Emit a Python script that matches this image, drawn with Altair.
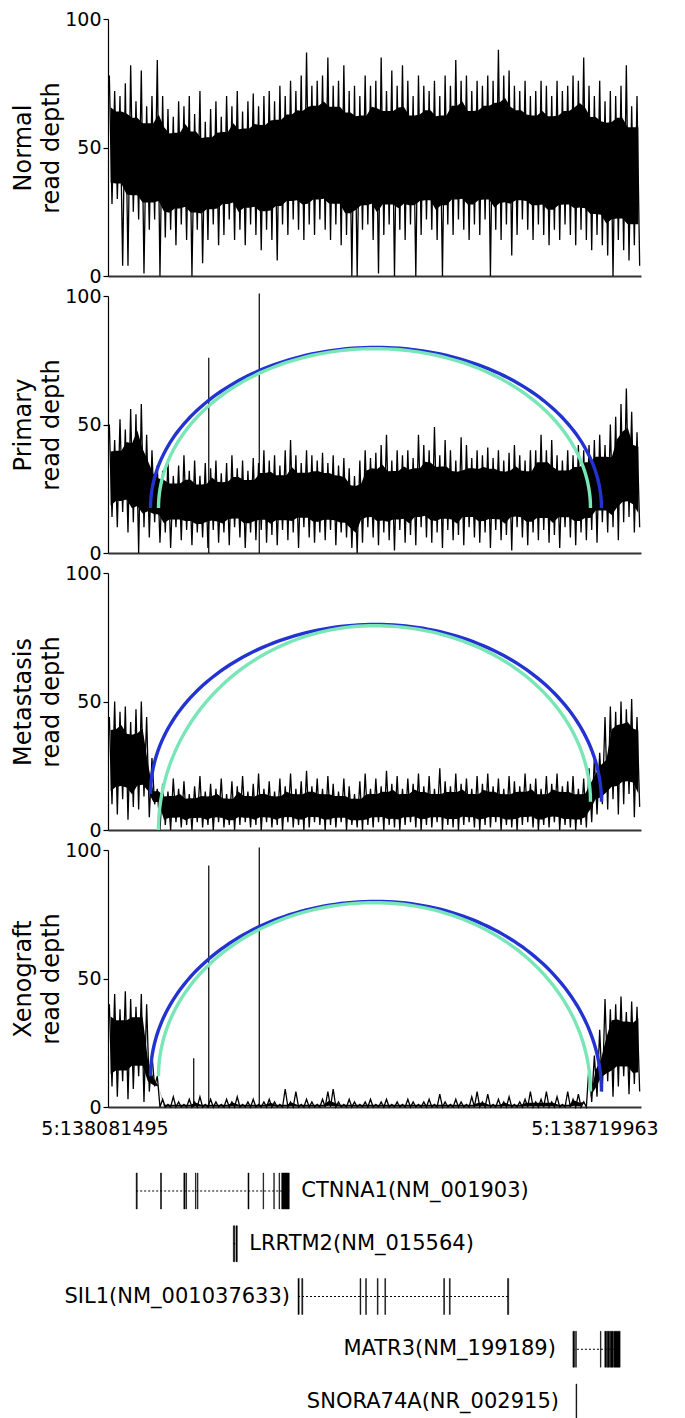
import numpy as np
import pandas as pd
import altair as alt

# ---------------- region / labels ----------------
CHROM = "5"
REGION_START = 138085404
REGION_END = 138779903
AXIS_LABEL_POS = [138081495, 138719963]

PANEL_NAMES = ["Normal", "Primary", "Metastasis", "Xenograft"]

# read depth envelope per bin (alternating peak / trough)
normal_hi = [78, 72, 70, 75, 82, 68, 80, 66, 70, 84,
             70, 65, 62, 68, 66, 70, 63, 72, 60, 65,
             68, 62, 70, 66, 72, 64, 68, 71, 66, 70,
             72, 68, 74, 70, 76, 72, 78, 87, 74, 76,
             78, 85, 74, 76, 82, 72, 74, 70, 78, 74,
             76, 85, 72, 80, 74, 82, 76, 70, 78, 74,
             72, 76, 70, 78, 74, 84, 76, 78, 72, 76,
             74, 78, 76, 88, 78, 80, 74, 72, 76, 70,
             72, 76, 74, 70, 76, 72, 74, 78, 76, 85,
             74, 70, 76, 68, 72, 70, 74, 82, 66, 70]
normal_lo = [28, 30, 4, 4, 25, 22, 1, 18, 22, 0,
             15, 18, 12, 20, 14, 0, 18, 5, 14, 20,
             12, 16, 22, 14, 18, 12, 20, 16, 10, 18,
             14, 6, 20, 16, 22, 18, 14, 20, 16, 22,
             18, 14, 20, 12, 16, 0, 0, 18, 20, 14,
             1, 16, 20, 0, 18, 14, 20, 0, 16, 22,
             18, 14, 0, 20, 16, 22, 18, 14, 20, 16,
             22, 0, 18, 14, 20, 8, 16, 22, 18, 14,
             20, 16, 12, 18, 14, 20, 16, 12, 18, 14,
             10, 16, 12, 8, 0, 14, 10, 6, 12, 4]

primary_hi = [50, 44, 52, 48, 56, 54, 58, 46, 40, 34,
              32, 36, 30, 34, 38, 32, 36, 30, 35, 33,
              36, 31, 35, 38, 33, 36, 32, 37, 35, 40,
              36, 38, 34, 40, 44, 38, 35, 40, 38, 36,
              39, 35, 38, 34, 37, 33, 30, 36, 40, 37,
              39, 42, 46, 36, 40, 38, 40, 37, 46, 42,
              40, 49, 38, 44, 40, 36, 45, 42, 37, 40,
              38, 41, 37, 40, 36, 39, 42, 38, 36, 40,
              40, 46, 40, 44, 38, 36, 40, 38, 42, 40,
              42, 44, 46, 42, 50, 53, 58, 64, 55, 47]
primary_lo = [14, 10, 16, 8, 12, 0, 10, 6, 12, 4,
              8, 2, 10, 5, 9, 3, 8, 6, 2, 9,
              4, 8, 3, 10, 6, 2, 8, 5, 9, 4,
              7, 3, 9, 5, 8, 2, 10, 6, 4, 8,
              5, 9, 3, 8, 6, 2, 0, 4, 10, 6,
              3, 8, 5, 1, 9, 4, 7, 3, 10, 6,
              4, 8, 2, 9, 5, 7, 3, 10, 6, 4,
              8, 2, 9, 5, 7, 1, 10, 6, 3, 8,
              5, 9, 4, 7, 2, 10, 6, 3, 8, 5,
              9, 4, 12, 8, 10, 5, 12, 14, 8, 10]

metastasis_hi = [44, 50, 46, 48, 42, 47, 50, 44, 28, 16,
                 18, 15, 20, 16, 19, 14, 17, 21, 15, 18,
                 16, 20, 14, 19, 17, 21, 15, 18, 22, 16,
                 19, 15, 20, 17, 22, 16, 19, 23, 17, 20,
                 16, 21, 18, 15, 20, 17, 14, 19, 22, 16,
                 20, 17, 23, 18, 21, 16, 20, 18, 22, 17,
                 21, 16, 24, 19, 17, 22, 18, 20, 16, 21,
                 18, 22, 17, 20, 16, 21, 19, 17, 22, 18,
                 20, 16, 21, 18, 22, 17, 19, 21, 16, 20,
                 24, 28, 30, 44, 48, 46, 50, 47, 51, 44]
metastasis_lo = [10, 6, 12, 4, 9, 8, 13, 5, 10, 0,
                 2, 0, 3, 1, 2, 0, 3, 1, 2, 0,
                 3, 1, 2, 0, 2, 3, 1, 2, 0, 3,
                 1, 2, 0, 3, 1, 2, 0, 1, 3, 2,
                 0, 2, 1, 3, 0, 2, 1, 0, 2, 1,
                 3, 0, 2, 1, 0, 2, 3, 1, 0, 2,
                 1, 3, 0, 2, 1, 0, 2, 3, 1, 0,
                 2, 1, 3, 0, 2, 1, 0, 2, 3, 1,
                 0, 2, 1, 3, 0, 2, 1, 0, 2, 1,
                 3, 6, 10, 8, 12, 6, 10, 14, 5, 9]

xenograft_hi = [40, 44, 38, 45, 42, 39, 44, 40, 20, 12,
                3, 1, 4, 2, 1, 3, 2, 4, 1, 3,
                2, 1, 3, 2, 4, 1, 2, 3, 1, 2,
                3, 2, 1, 7, 2, 6, 1, 3, 2, 1,
                3, 6, 7, 2, 1, 3, 2, 1, 2, 3,
                1, 2, 3, 1, 2, 1, 3, 2, 1, 2,
                3, 1, 5, 2, 1, 3, 2, 1, 4, 6,
                2, 5, 1, 3, 2, 4, 1, 2, 3, 6,
                2, 3, 6, 2, 4, 1, 6, 3, 5, 2,
                16, 20, 30, 42, 38, 40, 43, 37, 41, 39]
xenograft_lo = [8, 4, 10, 3, 7, 12, 2, 6, 8, 0,
                0, 0, 0, 0, 0, 0, 0, 0, 0, 0,
                0, 0, 0, 0, 0, 0, 0, 0, 0, 0,
                0, 0, 0, 0, 0, 0, 0, 0, 0, 0,
                0, 0, 0, 0, 0, 0, 0, 0, 0, 0,
                0, 0, 0, 0, 0, 0, 0, 0, 0, 0,
                0, 0, 0, 0, 0, 0, 0, 0, 0, 0,
                0, 0, 0, 0, 0, 0, 0, 0, 0, 0,
                0, 0, 0, 0, 0, 0, 0, 0, 0, 0,
                2, 4, 6, 10, 4, 8, 12, 5, 9, 6]

# isolated high spikes
primary_spike_pos = [138216700, 138282500]
primary_spike_val = [76, 101]
xenograft_spike_pos = [138197100, 138216700, 138282500]
xenograft_spike_val = [19, 94, 101]

# split-read arcs (breakpoint pairs), panels Primary, Metastasis, Xenograft
blue_arc_pos = [138140800, 138728400]
green_arc_pos = [138151200, 138714100]
blue_base_left = [17.5, 14, 12]
blue_base_right = [17.5, 11, 6]
green_base_left = [17.5, 0, 12]
green_base_right = [17.5, 11, 6]
blue_peak = [80, 80, 80]
green_peak = [79.5, 79.5, 79.5]
ARC_COLORS = ["#2233d0", "#78e6b6"]

# gene models
gene_names = ["CTNNA1", "LRRTM2", "SIL1", "MATR3", "SNORA74A"]
gene_ids = ["NM_001903", "NM_015564", "NM_001037633", "NM_199189", "NR_002915"]
ctnna1_start = [138122100, 138153800, 138184200, 138186900, 138199300, 138201900,
                138267800, 138287400, 138301400, 138308200, 138311700]
ctnna1_end = [138123500, 138155100, 138185700, 138187800, 138200100, 138202700,
              138269100, 138288200, 138302100, 138309000, 138321600]
lrrtm2_start = [138248700, 138252200]
lrrtm2_end = [138250600, 138253900]
sil1_start = [138333000, 138337900, 138413800, 138421100, 138436300, 138446100,
              138522800, 138530200, 138606000]
sil1_end = [138334500, 138339200, 138414800, 138422100, 138437300, 138447100,
            138523900, 138531300, 138607500]
matr3_start = [138691200, 138694700, 138727000, 138732700, 138735900, 138739800, 138744200]
matr3_end = [138693300, 138695700, 138727800, 138735000, 138738900, 138743400, 138752700]
snora74a_start = [138695200]
snora74a_end = [138696200]

FONT = "DejaVu Sans"
W = 533
H = 257

# ---------------- build tables ----------------
def depth_frame(hi, lo):
    n = len(hi)
    w = (REGION_END - REGION_START) / n
    xs, ys = [], []
    for i in range(n):
        xs += [REGION_START + (i + 0.25) * w, REGION_START + (i + 0.75) * w]
        ys += [hi[i], lo[i]]
    return pd.DataFrame({"pos": xs, "depth": ys})


def core_frame(hi, lo):
    # densely covered part of the signal, between neighbouring peaks and troughs
    n = len(hi)
    w = (REGION_END - REGION_START) / n
    s_hi = pd.Series(hi, dtype=float).rolling(3, center=True, min_periods=1).min().values
    s_lo = pd.Series(lo, dtype=float).rolling(3, center=True, min_periods=1).max().values
    s_hi = np.maximum(s_hi, s_lo)
    rng = s_hi - s_lo
    return pd.DataFrame({"pos": [REGION_START + (i + 0.5) * w for i in range(n)],
                         "depth": s_hi - 0.15 * rng, "core_lo": s_lo + 0.15 * rng})


def arc_frame(k):
    rows = []
    specs = [("blue", blue_arc_pos, blue_base_left[k], blue_base_right[k], blue_peak[k]),
             ("green", green_arc_pos, green_base_left[k], green_base_right[k], green_peak[k])]
    for name, (xl, xr), bl, br, pk in specs:
        xc = (xl + xr) / 2.0
        a = (xr - xl) / 2.0
        for j, t in enumerate(np.linspace(0, np.pi, 121)):
            base = bl if t <= np.pi / 2 else br
            rows.append({"arc": name, "i": j, "pos": xc - a * np.cos(t),
                         "depth": base + (pk - base) * np.sin(t)})
    return pd.DataFrame(rows)


xscale = alt.Scale(domain=[REGION_START, REGION_END], nice=False, zero=False)


def panel(idx, hi, lo, spikes=None, arc_k=None, last=False):
    name = PANEL_NAMES[idx]
    x = alt.X("pos:Q", scale=xscale,
              axis=alt.Axis(labels=False, ticks=False, title=None, grid=False,
                            domainColor="#333333", domainWidth=2))
    y = alt.Y("depth:Q", scale=alt.Scale(domain=[0, 100], nice=False),
              axis=alt.Axis(values=[0, 50, 100], title=[name, "read depth"], grid=False,
                            domainColor="black", domainWidth=1.2))
    layers = [
        alt.Chart(core_frame(hi, lo)).mark_area(color="black", interpolate="linear").encode(
            x=x, y=y, y2="core_lo:Q"),
        alt.Chart(depth_frame(hi, lo)).mark_line(
            color="black", strokeWidth=1.3).encode(x=x, y=y),
    ]
    if spikes is not None:
        sdf = pd.DataFrame({"pos": spikes[0], "depth": spikes[1]})
        layers.append(alt.Chart(sdf).mark_rule(color="black", strokeWidth=1.2).encode(
            x=x, y=y, y2=alt.datum(0)))
    if arc_k is not None:
        adf = arc_frame(arc_k)
        layers.append(alt.Chart(adf).mark_line(strokeWidth=3.4, strokeCap="butt").encode(
            x=x, y=y,
            color=alt.Color("arc:N", scale=alt.Scale(domain=["blue", "green"], range=ARC_COLORS),
                            legend=None),
            detail="arc:N", order="i:Q"))
    if last:
        ldf = pd.DataFrame({"pos": AXIS_LABEL_POS, "depth": [0, 0],
                            "label": [f"{CHROM}:{p}" for p in AXIS_LABEL_POS]})
        layers.append(alt.Chart(ldf).mark_text(
            baseline="top", align="center", dy=13, fontSize=19, font=FONT, color="black"
        ).encode(x=x, y=y, text="label:N"))
    return alt.layer(*layers).properties(width=W, height=H)


p1 = panel(0, normal_hi, normal_lo)
p2 = panel(1, primary_hi, primary_lo, spikes=(primary_spike_pos, primary_spike_val), arc_k=0)
p3 = panel(2, metastasis_hi, metastasis_lo, arc_k=1)
p4 = panel(3, xenograft_hi, xenograft_lo, spikes=(xenograft_spike_pos, xenograft_spike_val),
           arc_k=2, last=True)

# ---------------- gene track ----------------
exon_rows = []
for g, s_list, e_list in [("CTNNA1", ctnna1_start, ctnna1_end),
                          ("LRRTM2", lrrtm2_start, lrrtm2_end),
                          ("SIL1", sil1_start, sil1_end),
                          ("MATR3", matr3_start, matr3_end),
                          ("SNORA74A", snora74a_start, snora74a_end)]:
    for s, e in zip(s_list, e_list):
        exon_rows.append({"gene": g, "start": s, "end": e})
exons = pd.DataFrame(exon_rows)
spans = exons.groupby("gene").agg(start=("start", "min"), end=("end", "max")).reset_index()
spans["label"] = [f"{g}({gene_ids[gene_names.index(g)]})" for g in spans["gene"]]

gy = alt.Y("gene:N", scale=alt.Scale(domain=gene_names, paddingInner=0.318,
                                      paddingOuter=0.436, align=1), axis=None)
gx = alt.X("start:Q", scale=xscale, axis=None)

introns = alt.Chart(spans).mark_rule(color="black", strokeWidth=1, strokeDash=[2, 2]).encode(
    x=gx, x2="end:Q", y=gy)
exon_marks = alt.Chart(exons).mark_rect(color="black", stroke="black", strokeWidth=0.5).encode(
    x=gx, x2="end:Q", y=gy)
lab_right = alt.Chart(spans).transform_filter(
    alt.FieldOneOfPredicate(field="gene", oneOf=["CTNNA1", "LRRTM2"])
).mark_text(align="left", baseline="middle", dx=12, fontSize=21, font=FONT, color="black").encode(
    x=alt.X("end:Q", scale=xscale, axis=None), y=gy, text="label:N")
lab_sil1 = alt.Chart(spans).transform_filter(
    alt.FieldOneOfPredicate(field="gene", oneOf=["SIL1"])
).mark_text(align="right", baseline="middle", dx=-8, fontSize=21, font=FONT, color="black").encode(
    x=gx, y=gy, text="label:N")
lab_left = alt.Chart(spans).transform_filter(
    alt.FieldOneOfPredicate(field="gene", oneOf=["MATR3", "SNORA74A"])
).mark_text(align="right", baseline="middle", dx=-17, fontSize=21, font=FONT, color="black").encode(
    x=gx, y=gy, text="label:N")

genes_panel = alt.layer(introns, exon_marks, lab_right, lab_sil1, lab_left).properties(
    width=W, height=293)

chart = alt.vconcat(p1, p2, p3, p4, genes_panel, spacing=20, bounds="flush").properties(
    padding={"left": 3, "top": 2, "right": 0, "bottom": 0}
).configure_view(stroke=None).configure_axis(
    labelFont=FONT, titleFont=FONT, labelFontSize=19, titleFontSize=24,
    titleFontWeight="normal", labelColor="black", titleColor="black",
    tickColor="black", tickSize=5, tickWidth=1.2, labelPadding=2, titlePadding=1,
    titleLineHeight=28
)

chart.save("out.html", embed_options={"renderer": "svg", "actions": False})
